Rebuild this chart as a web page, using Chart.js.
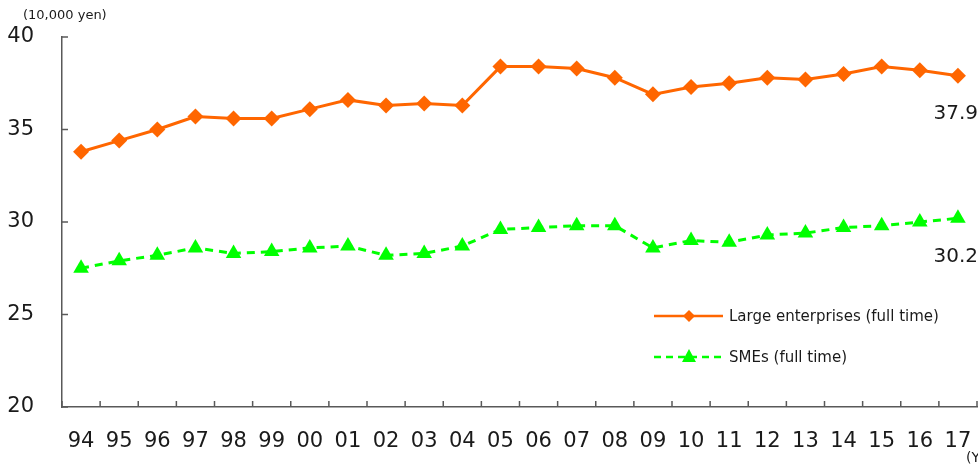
<!DOCTYPE html>
<html>
<head>
<meta charset="utf-8">
<script src="https://cdn.jsdelivr.net/npm/chart.js@4/dist/chart.umd.min.js"></script>
<style>
  html, body { margin: 0; padding: 0; background: #fff; }
  #wrap { position: relative; width: 978px; height: 465px; }
</style>
</head>
<body>
<div id="wrap"><canvas id="wageChart"></canvas></div>
<script>
const years = ['94', '95', '96', '97', '98', '99', '00', '01', '02', '03', '04', '05',
               '06', '07', '08', '09', '10', '11', '12', '13', '14', '15', '16', '17'];
const largeFull = [33.8, 34.4, 35.0, 35.7, 35.6, 35.6, 36.1, 36.6, 36.3, 36.4, 36.3, 38.4,
                   38.4, 38.3, 37.8, 36.9, 37.3, 37.5, 37.8, 37.7, 38.0, 38.4, 38.2, 37.9];
const smeFull = [27.5, 27.9, 28.2, 28.6, 28.3, 28.4, 28.6, 28.7, 28.2, 28.3, 28.7, 29.6,
                 29.7, 29.8, 29.8, 28.6, 29.0, 28.9, 29.3, 29.4, 29.7, 29.8, 30.0, 30.2];
const yTicks = [20, 25, 30, 35, 40];

const FONT = '"DejaVu Sans", Verdana, sans-serif';

// petites graduations vers l'intérieur, légende et étiquettes
const decor = {
    id: 'decor',
    afterDraw(chart) {
        const ctx = chart.ctx;
        const ys = chart.scales.y;
        const area = chart.chartArea;
        ctx.save();
        ctx.strokeStyle = '#595959';
        ctx.lineWidth = 1.5;
        yTicks.forEach(v => {
            const y = ys.getPixelForValue(v);
            ctx.beginPath();
            ctx.moveTo(area.left, y);
            ctx.lineTo(area.left + 6, y);
            ctx.stroke();
        });
        for (let i = 0; i <= years.length; i++) {
            const x = area.left + (area.right - area.left) * i / years.length;
            ctx.beginPath();
            ctx.moveTo(x, area.bottom);
            ctx.lineTo(x, area.bottom - 6);
            ctx.stroke();
        }

        ctx.fillStyle = '#1a1a1a';
        ctx.font = '13px ' + FONT;
        ctx.textAlign = 'left';
        ctx.textBaseline = 'middle';
        ctx.fillText('(10,000 yen)', 23, 16);
        ctx.font = '14px ' + FONT;
        ctx.fillText('(Year)', 966, 458);

        // valeurs finales
        const last = years.length - 1;
        ctx.font = '20px ' + FONT;
        ctx.textAlign = 'right';
        ctx.fillText(largeFull[last].toFixed(1), 978, ys.getPixelForValue(largeFull[last]) + 38);
        ctx.fillText(smeFull[last].toFixed(1), 978, ys.getPixelForValue(smeFull[last]) + 38);

        // légende
        const items = [
            { label: 'Large enterprises (full time)', color: '#ff6600', dash: [], style: 'diamond', y: 316 },
            { label: 'SMEs (full time)', color: '#00ff00', dash: [7, 5], style: 'triangle', y: 357 }
        ];
        items.forEach(it => {
            ctx.strokeStyle = it.color;
            ctx.lineWidth = 2.5;
            ctx.setLineDash(it.dash);
            ctx.beginPath();
            ctx.moveTo(654, it.y);
            ctx.lineTo(723, it.y);
            ctx.stroke();
            ctx.setLineDash([]);
            ctx.fillStyle = it.color;
            ctx.beginPath();
            if (it.style === 'diamond') {
                ctx.moveTo(689, it.y - 6);
                ctx.lineTo(695, it.y);
                ctx.lineTo(689, it.y + 6);
                ctx.lineTo(683, it.y);
            } else {
                ctx.moveTo(689, it.y - 8);
                ctx.lineTo(696, it.y + 5);
                ctx.lineTo(682, it.y + 5);
            }
            ctx.closePath();
            ctx.fill();
            ctx.fillStyle = '#1a1a1a';
            ctx.font = '15px ' + FONT;
            ctx.textAlign = 'left';
            ctx.fillText(it.label, 729, it.y + 1);
        });
        ctx.restore();
    }
};

const ctx = document.getElementById('wageChart').getContext('2d');
new Chart(ctx, {
    type: 'line',
    data: {
        labels: years,
        datasets: [
            {
                label: 'Large enterprises (full time)',
                data: largeFull,
                borderColor: '#ff6600',
                backgroundColor: '#ff6600',
                borderWidth: 3,
                pointStyle: 'rectRot',
                pointRadius: 8,
                pointBorderWidth: 0,
                tension: 0
            },
            {
                label: 'SMEs (full time)',
                data: smeFull,
                borderColor: '#00ff00',
                backgroundColor: '#00ff00',
                borderWidth: 3,
                borderDash: [8, 6],
                pointStyle: 'triangle',
                pointRadius: 9,
                pointBorderWidth: 0,
                tension: 0
            }
        ]
    },
    options: {
        responsive: true,
        maintainAspectRatio: false,
        animation: false,
        layout: { autoPadding: false, padding: { top: 37, right: 1, left: 4, bottom: 0 } },
        scales: {
            x: {
                offset: true,
                grid: { display: false, drawTicks: false },
                border: { color: '#595959', width: 1.5 },
                ticks: { color: '#1a1a1a', font: { family: FONT, size: 21 }, padding: 22, maxRotation: 0, autoSkip: false },
                afterFit(axis) {
                    axis.height = 58;
                    axis.paddingLeft = 0;
                    axis.paddingRight = 0;
                }
            },
            y: {
                min: 20,
                max: 40,
                afterBuildTicks(axis) { axis.ticks = yTicks.map(v => ({ value: v })); },
                grid: { display: false, drawTicks: false },
                border: { color: '#595959', width: 1.5 },
                ticks: { color: '#1a1a1a', font: { family: FONT, size: 21 }, padding: 28 },
                afterFit(axis) {
                    axis.width = 58;
                    axis.paddingTop = 0;
                    axis.paddingBottom = 0;
                }
            }
        },
        plugins: {
            legend: { display: false },
            tooltip: { enabled: false }
        }
    },
    plugins: [decor]
});
</script>
</body>
</html>
